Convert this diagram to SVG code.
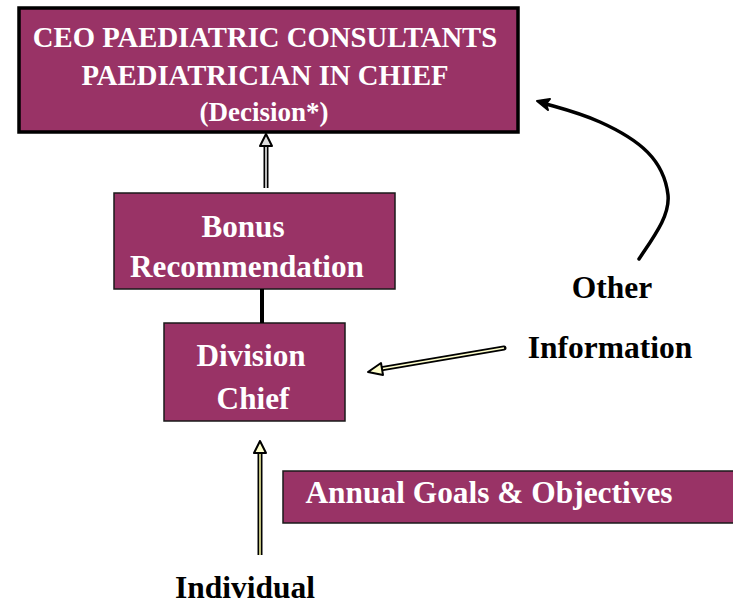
<svg xmlns="http://www.w3.org/2000/svg" width="733" height="605" viewBox="0 0 733 605">
  <style>
    .box { fill: #993366; stroke: #1a1a1a; stroke-width: 1.5; }
    .boxtext { font-family: "Liberation Serif", "Times New Roman", serif; font-weight: bold; fill: #ffffff; text-anchor: middle; }
    .label { font-family: "Liberation Serif", "Times New Roman", serif; font-weight: bold; fill: #000000; font-size: 31.5px; text-anchor: middle; }
    .outer { fill: none; stroke: #000000; stroke-linecap: round; }
  </style>
  <rect width="733" height="605" fill="#ffffff"/>

  <g id="ceo">
    <rect class="box" x="19" y="8" width="499" height="124" style="stroke:#000;stroke-width:3.5"/>
    <text class="boxtext" x="265" y="47" font-size="28.7">CEO PAEDIATRIC CONSULTANTS</text>
    <text class="boxtext" x="265" y="85" font-size="28.7">PAEDIATRICIAN IN CHIEF</text>
    <text class="boxtext" x="264" y="121" font-size="27">(Decision*)</text>
  </g>

  <g id="bonus">
    <rect class="box" x="114" y="193" width="281" height="96"/>
    <text class="boxtext" x="243" y="237" font-size="31.2">Bonus</text>
    <text class="boxtext" x="247" y="277" font-size="31.2">Recommendation</text>
  </g>

  <g id="division">
    <rect class="box" x="164" y="323" width="181" height="98"/>
    <text class="boxtext" x="251" y="366" font-size="31.2">Division</text>
    <text class="boxtext" x="253" y="409" font-size="31.2">Chief</text>
  </g>

  <g id="goals">
    <rect class="box" x="283" y="471" width="455" height="52"/>
    <text class="boxtext" x="489" y="503" font-size="31.4">Annual Goals &amp; Objectives</text>
  </g>

  <g id="other-information">
    <text class="label" x="612" y="298">Other</text>
    <text class="label" x="610" y="358">Information</text>
  </g>

  <g id="individual">
    <text class="label" x="245" y="598">Individual</text>
  </g>

  <g id="connectors">
    <!-- bonus -> ceo: hollow grey arrow -->
    <line x1="266" y1="188" x2="266" y2="144" stroke="#000" stroke-width="5"/>
    <line x1="266" y1="188" x2="266" y2="144" stroke="#bbbbbb" stroke-width="2"/>
    <path d="M266,134 L260,146 L272,146 Z" fill="#dddddd" stroke="#000" stroke-width="2" stroke-linejoin="round"/>

    <!-- bonus - division link -->
    <line x1="262" y1="289" x2="262" y2="323" stroke="#000" stroke-width="4"/>

    <!-- other information -> division -->
    <line x1="504" y1="348" x2="380" y2="369" stroke="#000" stroke-width="5" stroke-linecap="round"/>
    <line x1="504" y1="348" x2="380" y2="369" stroke="#ffffcc" stroke-width="1.5"/>
    <path d="M368,372 L381,363 L383,375 Z" fill="#ffffcc" stroke="#000" stroke-width="2" stroke-linejoin="round"/>

    <!-- individual -> division -->
    <line x1="260" y1="555" x2="260" y2="452" stroke="#000" stroke-width="5"/>
    <line x1="260" y1="555" x2="260" y2="452" stroke="#ffffaa" stroke-width="1.5"/>
    <path d="M260,441 L254,453 L266,453 Z" fill="#ffffcc" stroke="#000" stroke-width="2" stroke-linejoin="round"/>

    <!-- other information -> ceo: curved arrow -->
    <path class="outer" d="M639,259 C655,235 670,215 668,195 C664,160 640,140 600,122 C580,113 560,108 546,104" stroke-width="3.5"/>
    <path d="M537,101 L550,99 L546,104 L548,110 Z" fill="#000" stroke="#000" stroke-width="2" stroke-linejoin="round"/>
  </g>
</svg>
